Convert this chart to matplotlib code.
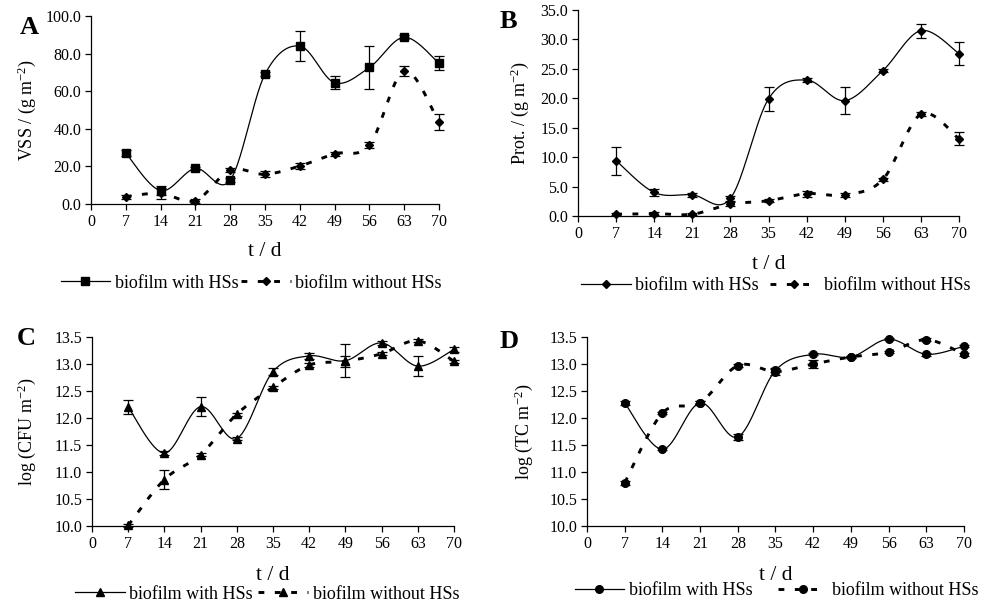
import numpy as np
import matplotlib
matplotlib.use('Agg')
import matplotlib.pyplot as plt
from matplotlib.lines import Line2D

plt.rcParams['font.family'] = ['Liberation Serif', 'DejaVu Serif']
plt.rcParams['mathtext.fontset'] = 'custom'
plt.rcParams['mathtext.rm'] = 'Liberation Serif'
plt.rcParams['mathtext.it'] = 'Liberation Serif:italic'
plt.rcParams['mathtext.bf'] = 'Liberation Serif:bold'

days = [7, 14, 21, 28, 35, 42, 49, 56, 63, 70]
x_ticks = [0, 7, 14, 21, 28, 35, 42, 49, 56, 63, 70]

vss_with = [27.1, 7.1, 18.9, 12.7, 69.0, 84.0, 64.5, 72.6, 88.7, 74.9]
vss_with_err = [1.5, 2.5, 1.0, 1.0, 1.0, 7.8, 3.4, 11.3, 1.0, 3.8]
vss_without = [3.9, 5.7, 1.8, 18.0, 15.8, 20.2, 26.7, 31.3, 70.8, 43.4]
vss_without_err = [1.0, 3.0, 1.0, 1.0, 1.5, 1.5, 1.0, 1.5, 2.5, 4.3]

prot_with = [9.4, 4.0, 3.6, 3.0, 19.9, 23.1, 19.6, 24.7, 31.5, 27.6]
prot_with_err = [2.4, 0.6, 0.3, 0.4, 2.0, 0.3, 2.3, 0.3, 1.2, 1.9]
prot_without = [0.3, 0.4, 0.3, 2.0, 2.6, 3.8, 3.6, 6.2, 17.3, 13.1]
prot_without_err = [0.2, 0.2, 0.2, 0.3, 0.3, 0.5, 0.3, 0.3, 0.3, 1.1]

cfu_with = [12.20, 11.35, 12.21, 11.62, 12.86, 13.15, 13.06, 13.39, 12.96, 13.27]
cfu_with_err = [0.13, 0.03, 0.17, 0.03, 0.06, 0.05, 0.31, 0.03, 0.19, 0.05]
cfu_without = [10.01, 10.86, 11.32, 12.07, 12.57, 12.98, 13.05, 13.19, 13.43, 13.05]
cfu_without_err = [0.03, 0.18, 0.03, 0.03, 0.03, 0.03, 0.10, 0.03, 0.03, 0.03]

tc_with = [12.28, 11.42, 12.28, 11.65, 12.88, 13.18, 13.13, 13.46, 13.18, 13.33]
tc_with_err = [0.04, 0.02, 0.03, 0.05, 0.03, 0.02, 0.02, 0.02, 0.03, 0.02]
tc_without = [10.80, 12.09, 12.28, 12.97, 12.86, 13.00, 13.13, 13.22, 13.45, 13.18]
tc_without_err = [0.04, 0.02, 0.03, 0.03, 0.06, 0.08, 0.02, 0.02, 0.03, 0.03]

legend_labels = ['biofilm with HSs', 'biofilm without HSs']


def smooth(x, y, n=40):
    P = np.column_stack([np.asarray(x, float), np.asarray(y, float)])
    out = []
    for i in range(len(P) - 1):
        p0 = P[max(i - 1, 0)]
        p1 = P[i]
        p2 = P[i + 1]
        p3 = P[min(i + 2, len(P) - 1)]
        c1 = p1 + (p2 - p0) / 6.0
        c2 = p2 - (p3 - p1) / 6.0
        t = np.linspace(0, 1, n)[:, None]
        seg = ((1 - t) ** 3) * p1 + 3 * ((1 - t) ** 2) * t * c1 + 3 * (1 - t) * t ** 2 * c2 + t ** 3 * p2
        out.append(seg if i == 0 else seg[1:])
    s = np.vstack(out)
    return s[:, 0], s[:, 1]


DASH = (0, (2.0, 3.6))
DLW = 2.1

fig = plt.figure(figsize=(9.93, 6.05), dpi=100)

panels = [
    dict(rect=[0.0916, 0.6628, 0.3505, 0.3108], w=vss_with, we=vss_with_err, wo=vss_without, woe=vss_without_err,
         m1='s', ms1=5.5, m2='D', ms2=4.5, ylim=(0, 100), yt=np.arange(0, 100.1, 20), ylabel=r'VSS / (g m$^{-2}$)',
         letter='A', lpos=(0.020, 0.955), leg=(0.253, 0.532), cs=0.15, ylx=0.027, xlab_y=-0.20),
    dict(rect=[0.5821, 0.6430, 0.3837, 0.3405], w=prot_with, we=prot_with_err, wo=prot_without, woe=prot_without_err,
         m1='D', ms1=4.5, m2='D', ms2=4.5, ylim=(0, 35), yt=np.arange(0, 35.1, 5), ylabel=r'Prot. / (g m$^{-2}$)',
         letter='B', lpos=(0.503, 0.964), leg=(0.781, 0.528), cs=0.6, ylx=0.523, xlab_y=-0.19),
    dict(rect=[0.0926, 0.1306, 0.3646, 0.3124], w=cfu_with, we=cfu_with_err, wo=cfu_without, woe=cfu_without_err,
         m1='^', ms1=6, m2='^', ms2=6, ylim=(10, 13.5), yt=np.arange(10, 13.51, 0.5), ylabel=r'log (CFU m$^{-2}$)',
         letter='C', lpos=(0.017, 0.441), leg=(0.269, 0.018), cs=0.3, ylx=0.027, xlab_y=-0.21),
    dict(rect=[0.5911, 0.1306, 0.3797, 0.3124], w=tc_with, we=tc_with_err, wo=tc_without, woe=tc_without_err,
         m1='o', ms1=5.5, m2='o', ms2=5.5, ylim=(10, 13.5), yt=np.arange(10, 13.51, 0.5), ylabel=r'log (TC m$^{-2}$)',
         letter='D', lpos=(0.503, 0.436), leg=(0.782, 0.024), cs=1.4, ylx=0.527, xlab_y=-0.21),
]

for p in panels:
    ax = fig.add_axes(p['rect'])
    ax.set_xlim(0, 70)
    ax.set_ylim(*p['ylim'])
    for s in ['top', 'right']:
        ax.spines[s].set_visible(False)
    for s in ['left', 'bottom']:
        ax.spines[s].set_linewidth(0.9)
    ax.set_xticks(x_ticks)
    ax.set_xticklabels([str(v) for v in x_ticks])
    ax.set_yticks(p['yt'])
    ax.set_yticklabels(['%.1f' % v for v in p['yt']])
    ax.tick_params(direction='out', length=4, width=0.9, labelsize=11.5, pad=3)

    # smoothed lines
    xs, ys = smooth(days, p['w'])
    ax.plot(xs, ys, color='black', lw=0.9, solid_capstyle='butt', clip_on=False)
    xs2, ys2 = smooth(days, p['wo'])
    ax.plot(xs2, ys2, color='black', lw=DLW, linestyle=DASH, dash_capstyle='butt', clip_on=False)

    # error bars
    ax.errorbar(days, p['w'], yerr=p['we'], fmt='none', ecolor='black', elinewidth=0.9, capsize=3.5, capthick=0.9, clip_on=False)
    ax.errorbar(days, p['wo'], yerr=p['woe'], fmt='none', ecolor='black', elinewidth=0.9, capsize=3.5, capthick=0.9, clip_on=False)

    # markers
    ax.plot(days, p['w'], linestyle='none', marker=p['m1'], ms=p['ms1'], color='black', clip_on=False, zorder=5)
    ax.plot(days, p['wo'], linestyle='none', marker=p['m2'], ms=p['ms2'], color='black', clip_on=False, zorder=5)

    ax.set_xlabel('t / d', fontsize=15.5)
    ax.xaxis.set_label_coords(0.5, p['xlab_y'])
    fig.text(p['ylx'], p['rect'][1] + p['rect'][3] / 2, p['ylabel'], rotation=90, fontsize=13,
             ha='center', va='center')

    fig.text(p['lpos'][0], p['lpos'][1], p['letter'], fontsize=19, fontweight='bold', ha='left', va='center')

    h1 = Line2D([], [], color='black', lw=0.9, marker=p['m1'], ms=p['ms1'])
    h2 = Line2D([], [], color='black', lw=DLW, linestyle=DASH, dash_capstyle='butt', marker=p['m2'], ms=p['ms2'])
    fig.legend([h1, h2], legend_labels, loc='center', bbox_to_anchor=(p['leg'][0], p['leg'][1]), ncol=2,
               frameon=False, fontsize=13, handlelength=2.75, handletextpad=0.25, columnspacing=p['cs'],
               borderpad=0, borderaxespad=0)

fig.savefig('out.png', dpi=100)
